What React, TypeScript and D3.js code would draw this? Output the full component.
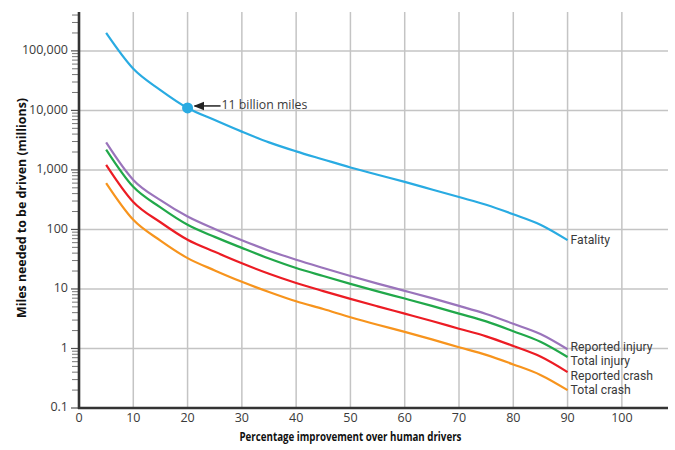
import React from "react";
import * as d3 from "d3";

const improvement = [5, 10, 15, 20, 25, 30, 35, 40, 45, 50, 55, 60, 65, 70, 75, 80, 85, 90];
const fatality = [200000, 50000, 22000, 11000, 6900, 4400, 2900, 2050, 1500, 1100, 830, 630, 470, 350, 260, 180, 120, 66];
const reportedInjury = [2900, 680, 310, 165, 102, 66, 44, 31, 22.5, 16.5, 12.3, 9.3, 7, 5.2, 3.8, 2.6, 1.75, 0.97];
const totalInjury = [2200, 520, 235, 120, 75, 49, 32.5, 22.5, 16.5, 12.2, 9.1, 6.9, 5.2, 3.85, 2.85, 1.95, 1.3, 0.72];
const reportedCrash = [1220, 290, 132, 67, 42, 27, 18, 12.6, 9.2, 6.8, 5.1, 3.85, 2.9, 2.15, 1.6, 1.1, 0.73, 0.4];
const totalCrash = [600, 145, 65, 33, 20.5, 13.2, 8.9, 6.2, 4.6, 3.35, 2.5, 1.9, 1.42, 1.05, 0.78, 0.54, 0.36, 0.2];

const seriesNames = ["Fatality", "Reported injury", "Total injury", "Reported crash", "Total crash"];
const seriesColors = ["#29abe2", "#9a74bb", "#21a84a", "#ec1c24", "#f7941d"];
const seriesValues = [fatality, reportedInjury, totalInjury, reportedCrash, totalCrash];

const xTicks = [0, 10, 20, 30, 40, 50, 60, 70, 80, 90, 100];
const yMajor = [0.1, 1, 10, 100, 1000, 10000, 100000];
const yTickLabels = ["0.1", "1", "10", "100", "1,000", "10,000", "100,000"];

const annotationX = 20;
const annotationY = 11000;
const annotationText = "11 billion miles";

export default function App() {
  const W = 675, H = 450;
  const left = 79, right = 668, top = 12, bottom = 408;
  const x = d3.scaleLinear().domain([0, 108.5]).range([left, right]);
  const y = d3.scaleLog().domain([0.1, 450000]).range([bottom, top]);

  const minor: number[] = [];
  for (let e = -1; e <= 5; e++) {
    for (let m = 2; m <= 9; m++) {
      const v = m * Math.pow(10, e);
      if (v <= 450000) minor.push(v);
    }
  }

  const line = d3
    .line<[number, number]>()
    .x((d) => x(d[0]))
    .y((d) => y(d[1]))
    .curve(d3.curveMonotoneX);

  const font = "'Open Sans', 'Noto Sans', sans-serif";
  const labelFont = "Roboto, 'Open Sans', sans-serif";
  const textColor = "#3a3a3a";

  const ax = x(annotationX), ay = y(annotationY);
  const labelY = [y(fatality[fatality.length - 1]) + 1, 347.5, 362, 376.5, 391];

  return (
    <svg width={W} height={H} style={{ position: "absolute", left: 0, top: 0, background: "#fff" }} fontFamily={font}>
      <defs>
        <marker id="arr" viewBox="0 0 10 10" refX="9" refY="5" markerWidth="7" markerHeight="7" orient="auto">
          <path d="M0,1 L10,5 L0,9 z" fill="#222" />
        </marker>
      </defs>
      {xTicks.filter((t) => t > 0).map((t) => (
        <line key={"vx" + t} x1={x(t)} x2={x(t)} y1={top} y2={bottom} stroke="#c4c4c4" strokeWidth={1.5} />
      ))}
      {yMajor.filter((t) => t > 0.1).map((t) => (
        <line key={"hy" + t} x1={left} x2={right} y1={y(t)} y2={y(t)} stroke="#c4c4c4" strokeWidth={1.5} />
      ))}
      {minor.map((v) => (
        <line key={"m" + v} x1={left - 7} x2={left} y1={y(v)} y2={y(v)} stroke="#777" strokeWidth={1} />
      ))}
      {yMajor.map((v) => (
        <line key={"M" + v} x1={left - 8} x2={left} y1={y(v)} y2={y(v)} stroke="#555" strokeWidth={1.2} />
      ))}
      {seriesValues.map((vals, i) => (
        <path
          key={seriesNames[i]}
          d={line(improvement.map((d, j) => [d, vals[j]] as [number, number])) || ""}
          fill="none"
          stroke={seriesColors[i]}
          strokeWidth={2.2}
        />
      ))}
      {seriesValues.map((vals, i) => (
        <text key={"l" + i} x={x(90) + 3} y={labelY[i]} fontFamily={labelFont} fontSize={12.2} fill={textColor} dominantBaseline="middle">
          {seriesNames[i]}
        </text>
      ))}
      <line x1={left} x2={left} y1={top} y2={bottom + 1} stroke="#333" strokeWidth={2.6} />
      <line x1={left - 1} x2={right} y1={bottom} y2={bottom} stroke="#333" strokeWidth={2.6} />
      {yMajor.map((v, i) => (
        <text key={"yl" + v} x={left - 11} y={y(v)} textAnchor="end" dominantBaseline="middle" fontSize={12.5} fill={textColor}>
          {yTickLabels[i]}
        </text>
      ))}
      {xTicks.map((t) => (
        <text key={"xl" + t} x={x(t)} y={bottom + 11} textAnchor="middle" dominantBaseline="middle" fontSize={12.5} fill={textColor}>
          {t}
        </text>
      ))}
      <text
        x={(x(0) + x(100)) / 2 - 111}
        y={441}
        fontSize={11.5}
        fontWeight="bold"
        fill="#111"
        textLength={222}
        lengthAdjust="spacingAndGlyphs"
      >
        Percentage improvement over human drivers
      </text>
      <text
        transform={`translate(26, 318) rotate(-90)`}
        fontSize={11.5}
        fontWeight="bold"
        fill="#111"
        textLength={220}
        lengthAdjust="spacingAndGlyphs"
      >
        Miles needed to be driven (millions)
      </text>
      <circle cx={ax} cy={ay} r={5.5} fill="#29abe2" />
      <line x1={ax + 33} x2={ax + 7} y1={ay - 2} y2={ay - 2} stroke="#222" strokeWidth={1.5} markerEnd="url(#arr)" />
      <text x={ax + 34} y={ay - 2} dominantBaseline="middle" fontSize={12.3} fill={textColor}>
        {annotationText}
      </text>
    </svg>
  );
}
